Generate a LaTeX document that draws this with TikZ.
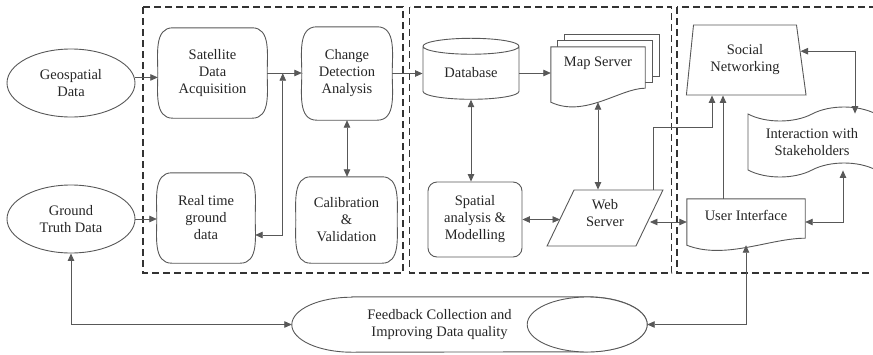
\documentclass[tikz,border=0pt]{standalone}
\usepackage{fontspec}
\setmainfont{Liberation Serif}
\usetikzlibrary{arrows.meta,positioning,shapes.geometric,shapes.symbols,backgrounds}
\definecolor{ink}{HTML}{262626}
\definecolor{edge}{HTML}{585858}
\definecolor{frame}{HTML}{333333}
\tikzset{
  blob/.style={ellipse,draw=edge,line width=.9pt,minimum width=128pt,minimum height=68pt,inner sep=0pt,align=center,text=ink},
  proc/.style={minimum height=90pt,inner sep=0pt,align=center,text=ink},
  outline/.style={draw=edge,line width=.9pt,fill=white},
  link/.style={-{Triangle[length=7.5pt,width=6.5pt]},line width=.8pt,draw=edge},
  twoway/.style={{Triangle[length=7.5pt,width=6.5pt]}-{Triangle[length=7.5pt,width=6.5pt]},line width=.8pt,draw=edge},
  group/.style={draw=frame,line width=1.5pt,dash pattern=on 7pt off 4pt}
}
\begin{document}
\begin{tikzpicture}[x=1pt,y=-1pt,font=\fontsize{14.5}{17}\selectfont]
  \useasboundingbox (0,0) rectangle (873,354);
  \clip (0,0) rectangle (873,354);
  % sources
  \node[blob] (geo) at (71,83) {Geospatial\\Data};
  \node[blob] (ground) at (71,219) {Ground\\Truth Data};

  % acquisition group
  \node[proc,minimum width=109pt] (sat) at (212.5,73) {Satellite\\Data\\Acquisition};
  \node[proc,minimum width=98pt] (real) at (206,218) {Real time\\ground\\data};
  \node[proc,minimum width=90pt,minimum height=93pt] (chg) at (347,73.5) {Change\\Detection\\Analysis};
  \node[proc,minimum width=101pt,minimum height=86pt] (cal) at (346.5,220) {Calibration\\\&\\Validation};

  % data and servers
  \node[cylinder,shape border rotate=90,draw=edge,line width=.9pt,aspect=.3,minimum width=96pt,minimum height=61pt,inner sep=0pt,text=ink] (db) at (471,73) {Database};
  \node[proc,minimum width=94pt,minimum height=55pt] (map) at (598,74.5) {};
  \node[text=ink] (maplabel) at ([yshift=11pt]map.center) {Map Server};
  \node[draw=edge,line width=.9pt,rounded corners=9pt,minimum width=94pt,minimum height=75pt,inner sep=0pt,align=center,text=ink] (spatial) at (475,219.5) {Spatial\\analysis \&\\Modelling};
  \node[trapezium,trapezium left angle=66,trapezium right angle=114,trapezium stretches=true,draw=edge,line width=.9pt,minimum width=116pt,minimum height=56pt,inner sep=0pt,align=center,text=ink] (web) at (605,218) {Web\\Server\\[-7pt]};

  % stakeholders
  \node[trapezium,trapezium left angle=81,trapezium right angle=78,trapezium stretches=true,draw=edge,line width=.9pt,minimum width=120pt,minimum height=70pt,inner sep=0pt,align=center,text=ink] (social) at (745,60) {Social\\Networking};
  \node[tape,tape bend height=14pt,draw=edge,line width=.9pt,minimum width=128pt,minimum height=70pt,inner sep=0pt,align=center,text=ink] (inter) at (812,142) {Interaction with\\Stakeholders};
  \node[proc,minimum width=118pt,minimum height=46pt] (ui) at (746,222) {};
  \node[text=ink] (uilabel) at ([yshift=7pt]ui.center) {User Interface};

  % feedback (body only, the end cap hangs off fb.east)
  \node[proc,minimum width=295pt,minimum height=55pt] (fb) at (439.5,324.5) {Feedback Collection and\\Improving Data quality};
  \coordinate (fbtip) at ([xshift=60pt]fb.east);

  \begin{scope}[on background layer]
    \foreach \n in {sat,real,chg,cal}{
      \draw[outline] ([xshift=15pt]\n.north west) -- ([xshift=-15pt]\n.north east)
        to[out=0,in=90] (\n.east) to[out=-90,in=0] ([xshift=-15pt]\n.south east)
        -- ([xshift=15pt]\n.south west) to[out=180,in=-90] (\n.west)
        to[out=90,in=180] cycle;
    }
    \foreach \k in {2,1}
      \draw[outline] ([xshift=\k*7pt,yshift=\k*6pt]map.north west) rectangle ([xshift=\k*7pt,yshift=\k*6pt+14pt]map.south east);
    \draw[outline] (map.north west) -- (map.north east) -- ([yshift=14pt]map.south east)
      .. controls ([xshift=-25pt,yshift=14pt]map.south east) and ([xshift=34pt,yshift=-16pt]map.south west) .. (map.south west) -- cycle;
    \draw[outline] (ui.north west) -- (ui.north east) -- ([yshift=7pt]ui.south east)
      .. controls ([xshift=-35pt,yshift=7pt]ui.south east) and ([xshift=38pt,yshift=-15pt]ui.south west) .. (ui.south west) -- cycle;
    \draw[outline] ([xshift=60pt]fb.north west) -- (fb.north east)
      arc[start angle=90,end angle=-90,x radius=60pt,y radius=27.5pt]
      -- ([xshift=60pt]fb.south west)
      arc[start angle=270,end angle=90,x radius=60pt,y radius=27.5pt] -- cycle;
    \draw[outline] (fb.east) ellipse[x radius=60pt,y radius=27.5pt];
  \end{scope}

  % dashed groups
  \draw[group] (143,7) rectangle (403,273);
  \draw[group] (409.5,7) rectangle (671.5,273);
  \draw[group] (677,7) rectangle (890,273);

  % connectors
  \path (sat.east) -- (chg.west) coordinate[pos=.45] (satjoin);
  \draw[link] (geo.5) -- (geo.5 -| sat.west);
  \draw[link] (ground.east) -- (ground.east -| real.west);
  \draw[link] (sat.east) -- (sat.east -| chg.west);
  \draw[twoway] ([yshift=-17pt]real.east) -| (satjoin);
  \draw[twoway] (chg.south) -- (chg.south |- cal.north);
  \draw[link] (chg.east) -- (chg.east -| db.west);
  \draw[link] (db.east) -- (db.east -| map.west);
  \draw[twoway] (db.south) -- (db.south |- spatial.north);
  \draw[twoway] (map.south) -- (map.south |- web.north);
  \draw[twoway] (spatial.east) -- (spatial.east -| web.west);
  \draw[twoway] (ui.west -| web.east) -- (ui.west);
  \draw[link] ([xshift=-10pt]web.top right corner) -- ++(0,-62) -| ([xshift=-33pt]social.south);
  \draw[link] ([xshift=-23pt]ui.north) -- ([xshift=-23pt]ui.north |- social.south);
  \draw[twoway] (social.9) -| ([xshift=43pt]inter.north);
  \draw[twoway] (ui.east) -| ([xshift=31pt]inter.south);
  \draw[twoway] (ui.south) |- (fbtip);
  \draw[twoway] (ground.south) |- (fb.west);
\end{tikzpicture}
\end{document}
